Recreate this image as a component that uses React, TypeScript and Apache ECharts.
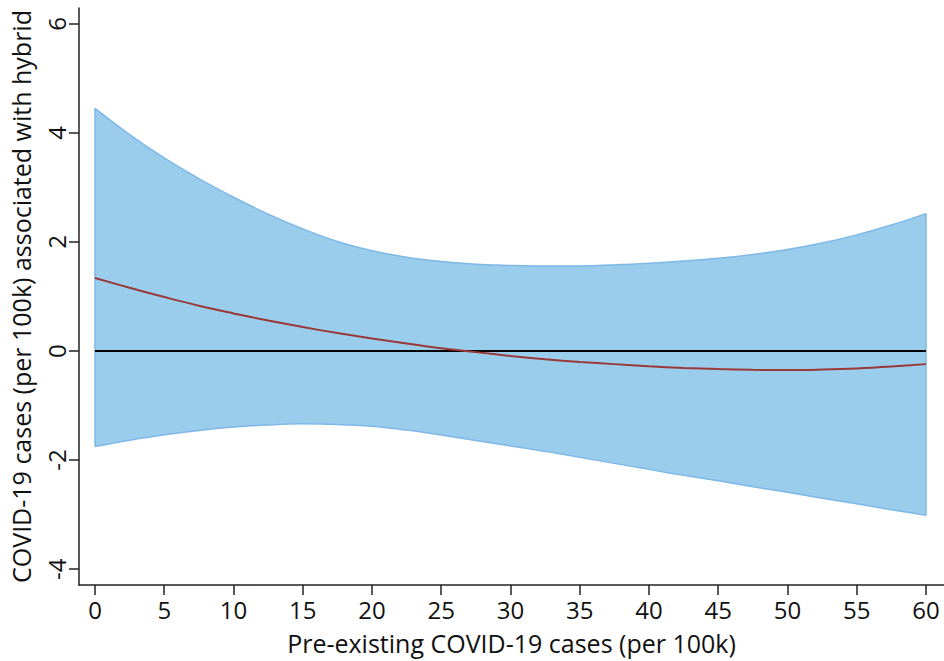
import React, { useEffect, useRef } from "react";
import * as echarts from "echarts";

const xValues = [0, 2.5, 5, 7.5, 10, 12.5, 15, 17.5, 20, 22.5, 25, 27.5, 30, 32.5, 35, 37.5, 40, 42.5, 45, 47.5, 50, 52.5, 55, 57.5, 60];
const upperCI = [4.45, 3.97, 3.54, 3.16, 2.82, 2.51, 2.24, 2.01, 1.84, 1.72, 1.64, 1.59, 1.57, 1.56, 1.56, 1.58, 1.61, 1.65, 1.7, 1.77, 1.86, 1.98, 2.13, 2.31, 2.52];
const lowerCI = [-1.75, -1.635, -1.535, -1.455, -1.395, -1.355, -1.335, -1.345, -1.38, -1.45, -1.54, -1.64, -1.74, -1.84, -1.95, -2.06, -2.17, -2.28, -2.38, -2.49, -2.59, -2.7, -2.8, -2.91, -3.01];
const estimate = [1.34, 1.16, 0.99, 0.83, 0.69, 0.56, 0.44, 0.33, 0.23, 0.14, 0.05, -0.02, -0.09, -0.15, -0.2, -0.24, -0.28, -0.31, -0.33, -0.345, -0.35, -0.34, -0.32, -0.285, -0.24];
const xTicks = [0, 5, 10, 15, 20, 25, 30, 35, 40, 45, 50, 55, 60];
const yTicks = [-4, -2, 0, 2, 4, 6];

const FONT = "Open Sans";
const FILL = "#9ACDEC";
const EDGE = "#7DB8E6";

export default function App() {
  const ref = useRef<HTMLDivElement>(null);
  useEffect(() => {
    if (!ref.current) return;
    const chart = echarts.init(ref.current, undefined, { renderer: "svg" });
    const n = xValues.length;
    const axisColor = "#222";
    chart.setOption({
      animation: false,
      backgroundColor: "#fff",
      grid: { left: 79, right: 0, top: 8, bottom: 76 },
      xAxis: {
        type: "value",
        min: -1.155,
        max: 61.3,
        z: 10,
        name: "Pre-existing COVID-19 cases (per 100k)",
        nameLocation: "middle",
        nameGap: 45,
        nameTextStyle: { fontFamily: FONT, fontSize: 25, color: "#111" },
        axisLine: { show: true, onZero: false, lineStyle: { color: axisColor, width: 1.5 } },
        axisTick: { show: true, length: 10, customValues: xTicks, lineStyle: { color: axisColor, width: 1.5 } },
        axisLabel: { customValues: xTicks, fontFamily: FONT, fontSize: 24, color: "#111", margin: 12 },
        splitLine: { show: false },
      },
      yAxis: {
        type: "value",
        min: -4.29,
        max: 6.29,
        z: 10,
        name: "COVID-19 cases (per 100k) associated with hybrid",
        nameLocation: "middle",
        nameGap: 46,
        nameTextStyle: { fontFamily: FONT, fontSize: 25, color: "#111" },
        axisLine: { show: true, onZero: false, lineStyle: { color: axisColor, width: 1.5 } },
        axisTick: { show: true, length: 10, customValues: yTicks, lineStyle: { color: axisColor, width: 1.5 } },
        axisLabel: { customValues: yTicks, rotate: 90, fontFamily: FONT, fontSize: 24, color: "#111", margin: 11 },
        splitLine: { show: false },
      },
      series: [
        {
          type: "line",
          smooth: 0.4,
          symbol: "none",
          data: xValues.map((x, i) => [x, upperCI[i]]),
          lineStyle: { color: EDGE, width: 1.5 },
          areaStyle: { color: FILL, opacity: 1, origin: "start" },
          z: 1,
        },
        {
          type: "line",
          smooth: 0.4,
          symbol: "none",
          data: xValues.map((x, i) => [x, lowerCI[i]]),
          lineStyle: { color: EDGE, width: 1.5 },
          areaStyle: { color: "#ffffff", opacity: 1, origin: "start" },
          z: 2,
        },
        {
          type: "line",
          symbol: "none",
          data: [[xValues[0], lowerCI[0]], [xValues[0], upperCI[0]]],
          lineStyle: { color: EDGE, width: 1.5 },
          z: 3,
        },
        {
          type: "line",
          symbol: "none",
          data: [[xValues[n - 1], lowerCI[n - 1]], [xValues[n - 1], upperCI[n - 1]]],
          lineStyle: { color: EDGE, width: 1.5 },
          z: 3,
        },
        {
          type: "line",
          symbol: "none",
          data: [[xValues[0], 0], [xValues[n - 1], 0]],
          lineStyle: { color: "#000", width: 2 },
          z: 4,
        },
        {
          type: "line",
          smooth: 0.4,
          symbol: "none",
          data: xValues.map((x, i) => [x, estimate[i]]),
          lineStyle: { color: "#9A3838", width: 2 },
          z: 5,
        },
      ],
    });
    return () => chart.dispose();
  }, []);
  return <div ref={ref} style={{ width: 944, height: 661, position: "absolute", left: 0, top: 0 }} />;
}
